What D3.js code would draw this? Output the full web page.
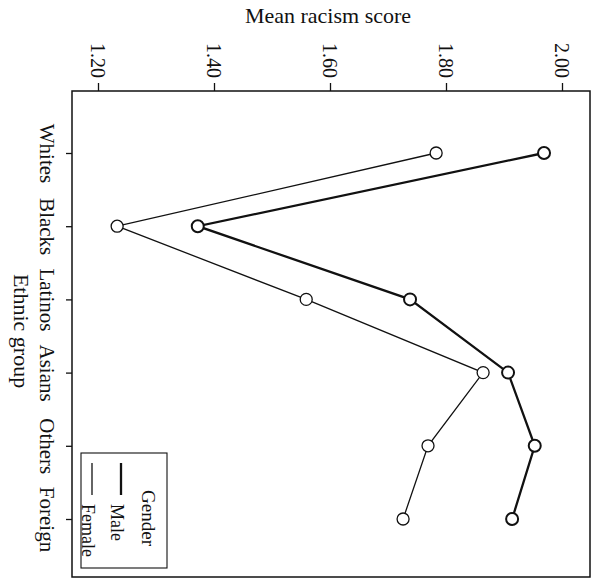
<!DOCTYPE html>
<html>
<head>
<meta charset="utf-8">
<script src="https://cdn.jsdelivr.net/npm/d3@7"></script>
<style>
  html, body { margin: 0; padding: 0; background: #fff; }
  svg { display: block; }
  text { font-family: "Liberation Serif", "Times New Roman", serif; fill: #111; }
</style>
</head>
<body>
<script>
const categories = ["Whites", "Blacks", "Latinos", "Asians", "Others", "Foreign"];
const maleScores = [1.969, 1.372, 1.738, 1.907, 1.953, 1.914];
const femaleScores = [1.783, 1.233, 1.559, 1.864, 1.769, 1.726];
const scoreTicks = [1.2, 1.4, 1.6, 1.8, 2.0];
const seriesNames = ["Male", "Female"];

const W = 601, H = 584;
const frame = { left: 72, top: 91, right: 590, bottom: 577 };

const svg = d3.select("body").append("svg").attr("width", W).attr("height", H);

// Rotated chart: score runs horizontally, ethnic group vertically
const x = d3.scaleLinear().domain([1.2, 2.0]).range([98, 562]);
const y = d3.scalePoint().domain(categories).range([153, 519]);

// Frame
svg.append("rect")
  .attr("x", frame.left).attr("y", frame.top)
  .attr("width", frame.right - frame.left).attr("height", frame.bottom - frame.top)
  .attr("fill", "none").attr("stroke", "#111").attr("stroke-width", 1.5);

// Top axis (score)
const topAxis = svg.append("g")
  .attr("transform", `translate(0,${frame.top})`)
  .call(d3.axisTop(x).tickValues(scoreTicks).tickSize(8).tickSizeOuter(0).tickFormat(d3.format(".2f")));
topAxis.select(".domain").remove();
topAxis.selectAll(".tick line").attr("stroke", "#111").attr("stroke-width", 1.3);
topAxis.selectAll(".tick text")
  .attr("x", 0).attr("y", 0).attr("dy", null)
  .attr("text-anchor", "end")
  .attr("transform", "translate(-8,-13) rotate(90)")
  .style("font-family", "'Liberation Serif', serif")
  .style("font-size", "20px").attr("fill", "#111");

// Left axis (ethnic group)
const leftAxis = svg.append("g")
  .attr("transform", `translate(${frame.left},0)`)
  .call(d3.axisLeft(y).tickSize(6).tickSizeOuter(0));
leftAxis.select(".domain").remove();
leftAxis.selectAll(".tick line").attr("stroke", "#111").attr("stroke-width", 1.3);
leftAxis.selectAll(".tick text")
  .attr("x", 0).attr("y", 0).attr("dy", null)
  .attr("text-anchor", "middle")
  .attr("transform", "translate(-32,0) rotate(90)")
  .style("font-family", "'Liberation Serif', serif")
  .style("font-size", "21px").attr("fill", "#111");

// Axis titles
svg.append("text")
  .attr("x", 328).attr("y", 23)
  .attr("text-anchor", "middle")
  .style("font-size", "22px")
  .text("Mean racism score");

svg.append("text")
  .attr("text-anchor", "middle")
  .attr("transform", "translate(14,331) rotate(90)")
  .style("font-size", "22px")
  .text("Ethnic group");

// Series
const series = [
  { name: seriesNames[0], values: maleScores, lw: 2.3, cw: 2.0 },
  { name: seriesNames[1], values: femaleScores, lw: 1.3, cw: 1.3 }
];

const line = d3.line().x(d => x(d.v)).y(d => y(d.c));

series.forEach(s => {
  const pts = categories.map((c, i) => ({ c, v: s.values[i] }));
  svg.append("path")
    .datum(pts)
    .attr("d", line)
    .attr("fill", "none")
    .attr("stroke", "#111")
    .attr("stroke-width", s.lw);
  svg.append("g").selectAll("circle")
    .data(pts).join("circle")
    .attr("cx", d => x(d.v)).attr("cy", d => y(d.c))
    .attr("r", 6)
    .attr("fill", "#fff")
    .attr("stroke", "#111")
    .attr("stroke-width", s.cw);
});

// Legend
const lg = svg.append("g");
lg.append("rect")
  .attr("x", 81).attr("y", 453).attr("width", 86).attr("height", 115)
  .attr("fill", "#fff").attr("stroke", "#111").attr("stroke-width", 1.1);
lg.append("text")
  .attr("text-anchor", "middle")
  .attr("transform", "translate(142,518) rotate(90)")
  .style("font-size", "19px")
  .text("Gender");
const legendX = [121, 92];
series.forEach((s, i) => {
  lg.append("line")
    .attr("x1", legendX[i]).attr("x2", legendX[i])
    .attr("y1", 463).attr("y2", 495)
    .attr("stroke", "#111").attr("stroke-width", s.lw);
  lg.append("text")
    .attr("text-anchor", "start")
    .attr("transform", `translate(${legendX[i] - 10},504) rotate(90)`)
    .style("font-size", "18px")
    .text(s.name);
});
</script>
</body>
</html>
